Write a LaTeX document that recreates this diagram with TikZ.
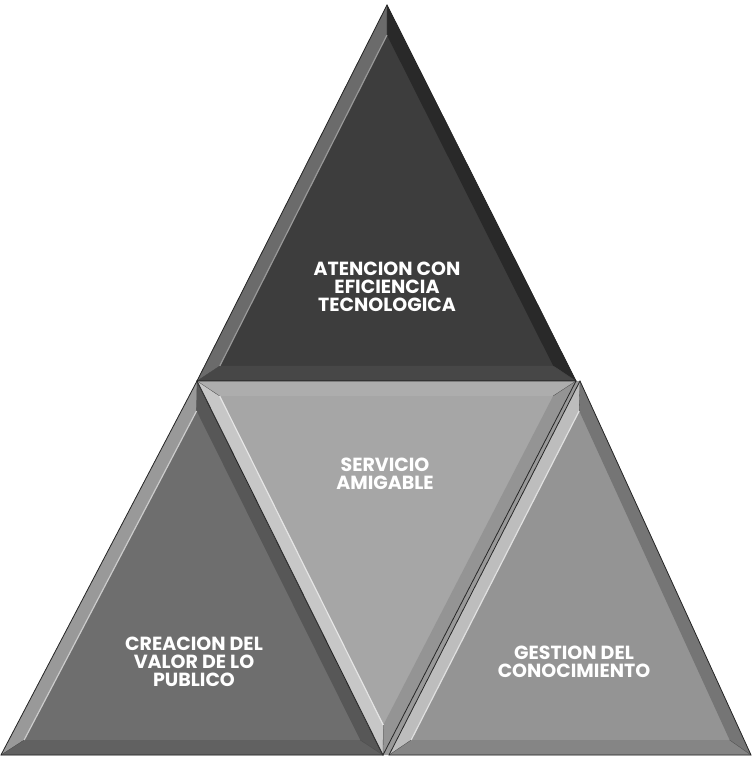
\documentclass[tikz,border=0pt]{standalone}
\usepackage{fontspec}
\setsansfont{Poppins}
\usetikzlibrary{calc}
\newcommand\bevtri[8]{%
  \coordinate (gg) at ($0.3333*(#1)+0.3333*(#2)+0.3334*(#3)$);
  \coordinate (ia) at ($(gg)!0.88!(#1)$);
  \coordinate (ib) at ($(gg)!0.88!(#2)$);
  \coordinate (ic) at ($(gg)!0.88!(#3)$);
  \fill[#4] (#1)--(#2)--(#3)--cycle;
  \fill[#5] (#1)--(#2)--(ib)--(ia)--cycle;
  \fill[#6] (#2)--(#3)--(ic)--(ib)--cycle;
  \fill[#7] (#3)--(#1)--(ia)--(ic)--cycle;
  \draw[#8,line width=1.2pt] (ia)--(ib);
  \draw[black!70,line width=0.3pt] (#1)--(ia) (#2)--(ib) (#3)--(ic);
  \draw[black!85,line width=0.8pt] (#1)--(#2)--(#3)--cycle;
}
\tikzset{lbl/.style={text=white,font=\sffamily\bfseries\fontsize{19}{18}\selectfont,align=center,inner sep=0pt}}
\begin{document}
\begin{tikzpicture}[x=1pt,y=-1pt]
\useasboundingbox[fill=white] (0,0) rectangle (752,760);
\coordinate (A) at (387,5);
\coordinate (B) at (197,381);
\coordinate (C) at (576,381);
\coordinate (D) at (1,755);
\coordinate (E) at (383,755);
\coordinate (C2) at (580,381);
\coordinate (E2) at (389,755);
\coordinate (F) at (751,755);
\fill[black!40] (C)--(C2)--(E2)--(E)--cycle;
% top
\bevtri{A}{B}{C}{black!76}{black!58}{black!72}{black!84}{white!60!black}
% left
\bevtri{B}{D}{E}{black!57}{black!40}{black!62}{black!66}{white!80!black}
% middle (inverted)
\bevtri{E}{B}{C}{black!35}{black!22}{black!32}{black!42}{white!90!black}
% right
\bevtri{C2}{E2}{F}{black!42}{black!26}{black!48}{black!54}{white!88!black}
\node[lbl] (t1) at (387,287) {ATENCION CON\\EFICIENCIA\\TECNOLOGICA};
\node[lbl] (t2) at (385,474) {SERVICIO\\AMIGABLE};
\node[lbl] (t3) at (194,662) {CREACION DEL\\VALOR DE LO\\PUBLICO};
\node[lbl] (t4) at (574,662) {GESTION DEL\\CONOCIMIENTO};
\end{tikzpicture}
\end{document}
